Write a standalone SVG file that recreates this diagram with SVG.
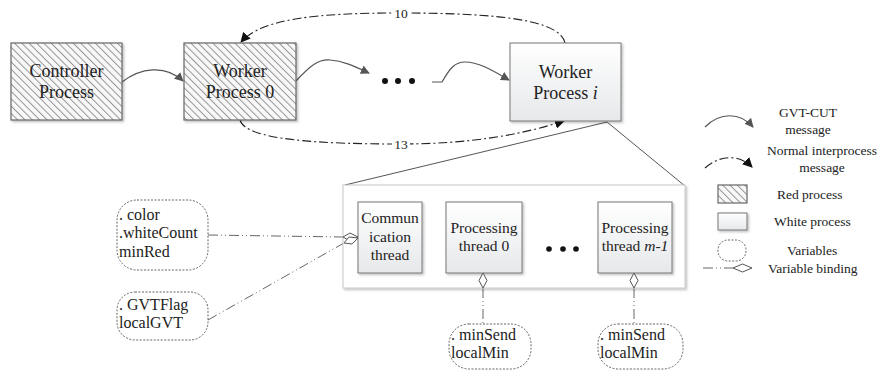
<svg xmlns="http://www.w3.org/2000/svg" width="877" height="371" viewBox="0 0 877 371" font-family="'Liberation Serif', 'Times New Roman', serif">
<style>
text, tspan{font-family:"Liberation Serif","Times New Roman",serif;fill:#222}
.n{font-size:18px;text-anchor:middle}
.t{font-size:15.5px;text-anchor:middle}
.v{font-size:16px}
.l{font-size:13.5px}
.red{fill:url(#hatch);stroke:#666;stroke-width:1.2}
.white{fill:url(#wg);stroke:#777;stroke-width:1}
.var{fill:#fff;stroke:#555;stroke-width:0.9;stroke-dasharray:2,1.5}
.gvt{fill:none;stroke:#555;stroke-width:1.2}
.msg{fill:none;stroke:#222;stroke-width:1.1;stroke-dasharray:9,3,2,3}
.bind{fill:none;stroke:#555;stroke-width:0.9;stroke-dasharray:10,3,1,3,1,3}
.dia{fill:#fff;stroke:#555;stroke-width:1}
.zoom{fill:none;stroke:#555;stroke-width:1}
.dot{fill:#111}
</style>
<defs>
<pattern id="hatch" patternUnits="userSpaceOnUse" width="5.2" height="5.2" patternTransform="rotate(-45)">
<rect width="5.2" height="5.2" fill="#f8f8f8"/>
<line x1="0.5" y1="0" x2="0.5" y2="5.2" stroke="#8c8c8c" stroke-width="0.9"/>
</pattern>
<linearGradient id="wg" x1="0" y1="0" x2="0" y2="1">
<stop offset="0" stop-color="#ffffff"/>
<stop offset="1" stop-color="#e6e8ea"/>
</linearGradient>
<filter id="sh" x="-10%" y="-10%" width="130%" height="130%">
<feDropShadow dx="1.5" dy="1.5" stdDeviation="1" flood-color="#000" flood-opacity="0.25"/>
</filter>
<marker id="ag" viewBox="0 0 10 10" refX="9" refY="5" markerWidth="9" markerHeight="9" markerUnits="userSpaceOnUse" orient="auto">
<path d="M0,0 L10,5 L0,10 z" fill="#555"/>
</marker>
<marker id="ab" viewBox="0 0 10 10" refX="9" refY="5" markerWidth="10" markerHeight="10" markerUnits="userSpaceOnUse" orient="auto">
<path d="M0,0 L10,5 L0,10 z" fill="#111"/>
</marker>
</defs>

<g id="connectors">
<path class="zoom" d="M607,122 L345,185"/>
<path class="zoom" d="M607,122 L685,186"/>
<path class="gvt" marker-end="url(#ag)" d="M122,82 C140,68 165,64 183,81"/>
<path class="gvt" marker-end="url(#ag)" d="M296,81 C310,66 318,59 330,60 C344,61 356,67 369,73"/>
<path class="gvt" marker-end="url(#ag)" d="M432,82 L442,82 C450,68 455,62 465,62 C480,62 495,72 509,80"/>
<path class="msg" marker-end="url(#ab)" d="M565,43 C560,20 500,13 400,13 C320,13 262,18 241,42"/>
<path class="msg" marker-end="url(#ab)" d="M240,120 C245,140 320,144 400,144 C470,144 520,135 564,121"/>
<rect x="392" y="6" width="18" height="14" fill="#fff"/>
<text class="l" x="401" y="18" text-anchor="middle">10</text>
<rect x="392" y="137" width="18" height="14" fill="#fff"/>
<text class="l" x="401" y="149" text-anchor="middle">13</text>
<path class="bind" d="M208,235 L343,237"/>
<path class="bind" d="M208,320 L344,243"/>
<path class="bind" d="M483,288 L483,324"/>
<path class="bind" d="M634,288 L634,324"/>
</g>

<g id="controller">
<rect class="red" x="11" y="43" width="111" height="77" filter="url(#sh)"/>
<text class="n" x="66.5" y="77">Controller</text>
<text class="n" x="66.5" y="98">Process</text>
</g>

<g id="worker0">
<rect class="red" x="184" y="43" width="112" height="77" filter="url(#sh)"/>
<text class="n" x="240" y="77">Worker</text>
<text class="n" x="240" y="98">Process 0</text>
</g>

<g id="dots1">
<circle class="dot" cx="385" cy="81" r="3"/>
<circle class="dot" cx="398" cy="81" r="3"/>
<circle class="dot" cx="412" cy="81" r="3"/>
</g>

<g id="workeri">
<rect class="white" x="510" y="43" width="111" height="78" filter="url(#sh)"/>
<text class="n" x="565.5" y="78">Worker</text>
<text class="n" x="565.5" y="99">Process <tspan font-style="italic">i</tspan></text>
</g>

<g id="panel">
<rect x="343" y="185" width="342" height="103" fill="#fff" stroke="#c8c8c8" stroke-width="1" filter="url(#sh)"/>
</g>

<g id="comm">
<rect class="white" x="358" y="202" width="64" height="71" filter="url(#sh)"/>
<text class="t" x="390" y="223">Commun</text>
<text class="t" x="390" y="242">ication</text>
<text class="t" x="390" y="260">thread</text>
<path class="dia" d="M358,237 L350,233 L343,237 L350,241 z"/>
<path class="dia" d="M358,238 L349,237 L344,243 L352,244 z"/>
</g>

<g id="proc0">
<rect class="white" x="446" y="202" width="76" height="71" filter="url(#sh)"/>
<text class="t" x="484" y="233">Processing</text>
<text class="t" x="484" y="251">thread 0</text>
<path class="dia" d="M483,273 L487,280.5 L483,288 L479,280.5 z"/>
</g>

<g id="dots2">
<circle class="dot" cx="549" cy="249" r="2.8"/>
<circle class="dot" cx="563" cy="249" r="2.8"/>
<circle class="dot" cx="576" cy="249" r="2.8"/>
</g>

<g id="procm">
<rect class="white" x="598" y="202" width="74" height="71" filter="url(#sh)"/>
<text class="t" x="635" y="233">Processing</text>
<text class="t" x="635" y="251">thread <tspan font-style="italic">m-1</tspan></text>
<path class="dia" d="M634,273 L638,280.5 L634,288 L630,280.5 z"/>
</g>

<g id="var-color">
<rect class="var" x="117" y="200" width="91" height="70" rx="20"/>
<text class="v" x="119" y="220">. color</text>
<text class="v" x="119" y="238">.whiteCount</text>
<text class="v" x="119" y="257">minRed</text>
</g>

<g id="var-gvt">
<rect class="var" x="117" y="292" width="91" height="48" rx="18"/>
<text class="v" x="119" y="310">. GVTFlag</text>
<text class="v" x="119" y="328">localGVT</text>
</g>

<g id="var-p0">
<rect class="var" x="449" y="324" width="82" height="45" rx="20"/>
<text class="v" x="451" y="340">. minSend</text>
<text class="v" x="451" y="358">localMin</text>
</g>

<g id="var-pm">
<rect class="var" x="598" y="324" width="85" height="45" rx="20"/>
<text class="v" x="600" y="340">. minSend</text>
<text class="v" x="600" y="358">localMin</text>
</g>

<g id="legend">
<path class="gvt" marker-end="url(#ag)" d="M705,127 C720,112 740,112 753,127"/>
<text class="l" x="808" y="117" text-anchor="middle">GVT-CUT</text>
<text class="l" x="808" y="134" text-anchor="middle">message</text>
<path class="msg" marker-end="url(#ab)" d="M705,168 C718,156 738,153 752,167"/>
<text class="l" x="822" y="155" text-anchor="middle">Normal interprocess</text>
<text class="l" x="822" y="172" text-anchor="middle">message</text>
<rect class="red" x="718" y="185" width="29" height="18"/>
<text class="l" x="777" y="199">Red process</text>
<rect class="white" x="718" y="213" width="29" height="17" filter="url(#sh)"/>
<text class="l" x="774" y="226">White process</text>
<rect class="var" x="718" y="240" width="28" height="21" rx="10"/>
<text class="l" x="787" y="255">Variables</text>
<path class="bind" d="M703,268 L733,268"/>
<path class="dia" d="M733,268 L742.5,264 L752,268 L742.5,272 z"/>
<text class="l" x="768" y="273">Variable binding</text>
</g>
</svg>
